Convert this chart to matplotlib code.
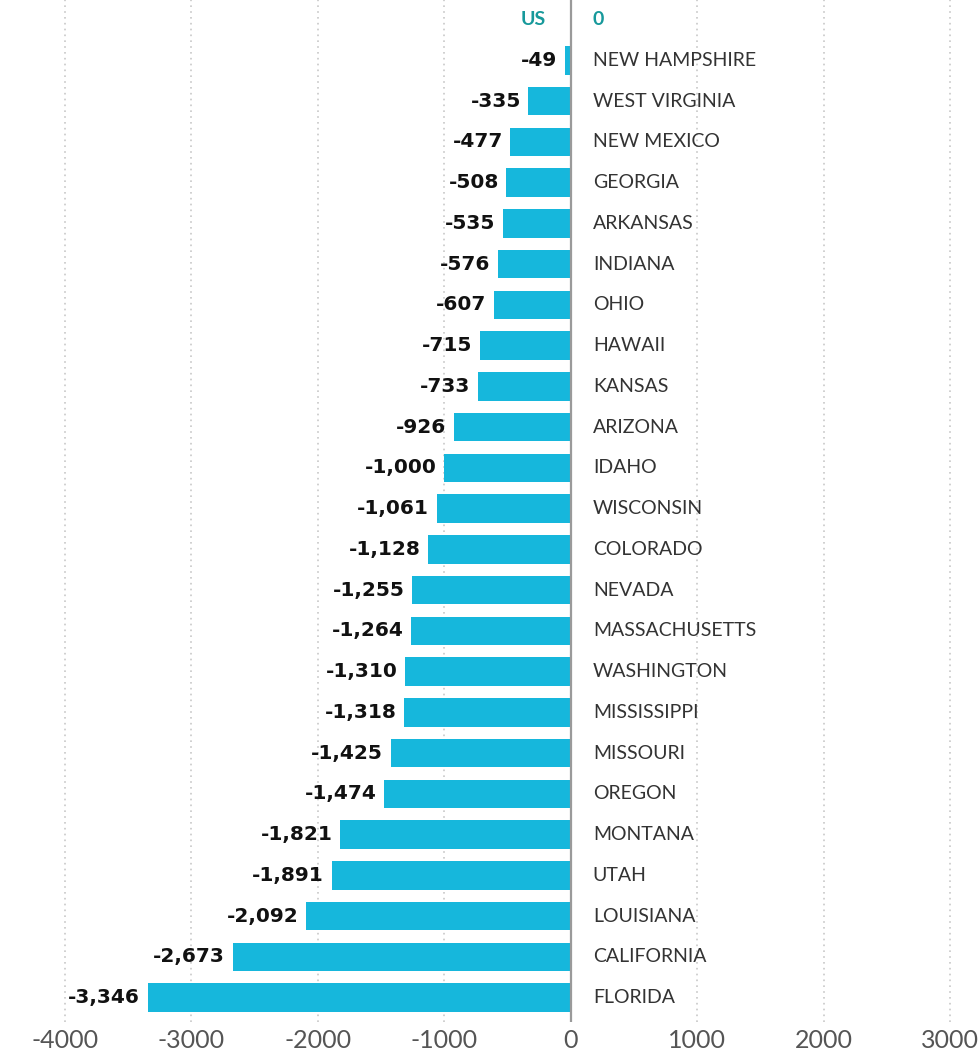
import matplotlib
matplotlib.use("Agg")
import matplotlib.pyplot as plt

states = ["US", "NEW HAMPSHIRE", "WEST VIRGINIA", "NEW MEXICO", "GEORGIA", "ARKANSAS",
          "INDIANA", "OHIO", "HAWAII", "KANSAS", "ARIZONA", "IDAHO", "WISCONSIN",
          "COLORADO", "NEVADA", "MASSACHUSETTS", "WASHINGTON", "MISSISSIPPI",
          "MISSOURI", "OREGON", "MONTANA", "UTAH", "LOUISIANA", "CALIFORNIA", "FLORIDA"]
values = [0, -49, -335, -477, -508, -535, -576, -607, -715, -733, -926, -1000, -1061,
          -1128, -1255, -1264, -1310, -1318, -1425, -1474, -1821, -1891, -2092,
          -2673, -3346]
ticks = [-4000, -3000, -2000, -1000, 0, 1000, 2000, 3000]

plt.rcParams['font.family'] = ['Lato', 'DejaVu Sans']

fig = plt.figure(figsize=(9.8, 10.57), dpi=100)
ax = fig.add_axes([0, 0.033, 1, 0.967])

bar_color = '#16b7dc'
teal = '#17999b'

ypos = list(range(len(states)))
ax.barh(ypos[1:], values[1:], height=0.7, color=bar_color, zorder=2)

# gridlines
for t in ticks:
    if t == 0:
        ax.axvline(0, color='#9a9a9a', lw=1.6, zorder=3)
    else:
        ax.axvline(t, color='#c8c8c8', lw=1.2, ls=(0, (1, 2.5)), zorder=1)

for i, (s, v) in enumerate(zip(states, values)):
    if i == 0:
        ax.text(-200, i, s, ha='right', va='center', fontsize=14, fontweight='bold', color=teal)
        ax.text(175, i, "0", ha='left', va='center', fontsize=14, fontweight='bold', color=teal)
        continue
    ax.text(175, i, s, ha='left', va='center', fontsize=14, color='#333333')
    ax.text(v - 60, i, f"{v:,}", ha='right', va='center', fontsize=14.5,
            fontweight='bold', color='#111111', family='DejaVu Sans')

ax.set_xlim(-4514, 3237)
ax.set_ylim(24.6, -0.48)
ax.set_xticks(ticks)
ax.set_xticklabels([str(t) for t in ticks], fontsize=18, color='#555555')
ax.tick_params(axis='x', length=0, pad=5)
ax.set_yticks([])
for sp in ax.spines.values():
    sp.set_visible(False)

fig.savefig("out.png", dpi=100)
